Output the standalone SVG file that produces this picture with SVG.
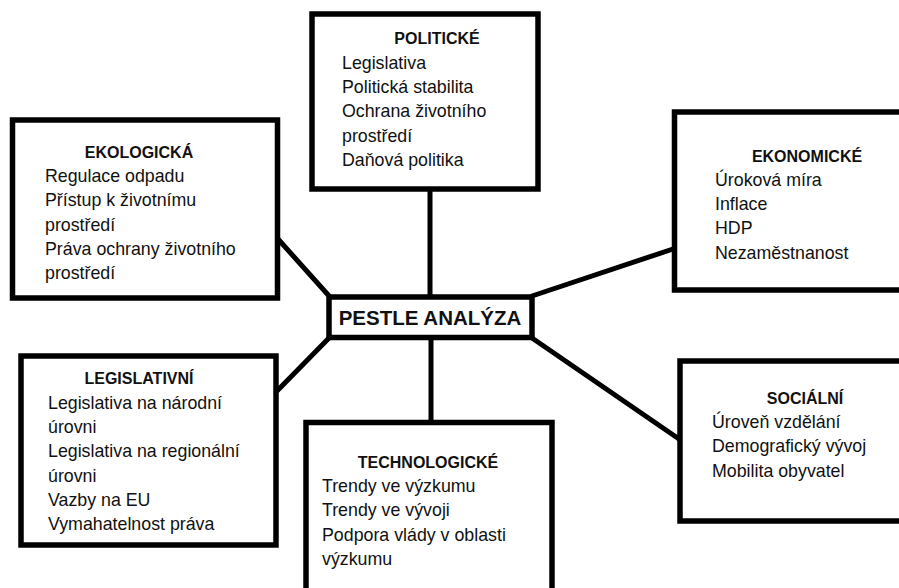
<svg xmlns="http://www.w3.org/2000/svg" width="899" height="588" viewBox="0 0 899 588">
<style>
.box{fill:#fff;stroke:#000;stroke-width:5.5}
.conn line{stroke:#000;stroke-width:5;stroke-linecap:round}
text{font-family:"Liberation Sans",Arial,sans-serif;fill:#111}
.t{font-size:16px;font-weight:bold;text-anchor:middle}
.b{font-size:17.8px}
.main{font-size:20.5px;font-weight:bold;text-anchor:middle}
</style>
<rect width="899" height="588" fill="#fff"/>
<g id="connectors" class="conn">
<line x1="430" y1="189" x2="430" y2="297"/>
<line x1="278" y1="239" x2="330" y2="297"/>
<line x1="532" y1="296" x2="676" y2="248"/>
<line x1="329" y1="338" x2="276" y2="392"/>
<line x1="431" y1="337" x2="431" y2="422"/>
<line x1="532" y1="338" x2="679" y2="439"/>
</g>
<g id="politicke">
<rect class="box" x="312" y="14" width="226" height="175"/>
<text class="t" x="437" y="44">POLITICKÉ</text>
<text class="b" x="342" y="69">Legislativa</text>
<text class="b" x="342" y="93">Politická stabilita</text>
<text class="b" x="342" y="117">Ochrana životního</text>
<text class="b" x="342" y="142">prostředí</text>
<text class="b" x="342" y="166">Daňová politika</text>
</g>
<g id="ekologicka">
<rect class="box" x="12.5" y="120" width="265" height="178"/>
<text class="t" x="139" y="158">EKOLOGICKÁ</text>
<text class="b" x="45" y="182">Regulace odpadu</text>
<text class="b" x="45" y="206">Přístup k životnímu</text>
<text class="b" x="45" y="231">prostředí</text>
<text class="b" x="45" y="255">Práva ochrany životního</text>
<text class="b" x="45" y="279">prostředí</text>
</g>
<g id="ekonomicke">
<rect class="box" x="674.5" y="112" width="230" height="178"/>
<text class="t" x="807" y="162">EKONOMICKÉ</text>
<text class="b" x="715" y="186">Úroková míra</text>
<text class="b" x="715" y="210">Inflace</text>
<text class="b" x="715" y="234">HDP</text>
<text class="b" x="715" y="259">Nezaměstnanost</text>
</g>
<g id="pestle">
<rect class="box" x="329" y="297" width="203" height="40.5"/>
<text class="main" x="430" y="325">PESTLE ANALÝZA</text>
</g>
<g id="legislativni">
<rect class="box" x="21" y="356" width="255" height="189"/>
<text class="t" x="139" y="384">LEGISLATIVNÍ</text>
<text class="b" x="48" y="409">Legislativa na národní</text>
<text class="b" x="48" y="433">úrovni</text>
<text class="b" x="48" y="457">Legislativa na regionální</text>
<text class="b" x="48" y="482">úrovni</text>
<text class="b" x="48" y="506">Vazby na EU</text>
<text class="b" x="48" y="530">Vymahatelnost práva</text>
</g>
<g id="technologicke">
<rect class="box" x="306" y="422.5" width="246" height="180"/>
<text class="t" x="428" y="468">TECHNOLOGICKÉ</text>
<text class="b" x="322" y="492">Trendy ve výzkumu</text>
<text class="b" x="322" y="516">Trendy ve vývoji</text>
<text class="b" x="322" y="541">Podpora vlády v oblasti</text>
<text class="b" x="322" y="565">výzkumu</text>
</g>
<g id="socialni">
<rect class="box" x="680" y="361" width="230" height="160"/>
<text class="t" x="805" y="404">SOCIÁLNÍ</text>
<text class="b" x="712" y="428">Úroveň vzdělání</text>
<text class="b" x="712" y="452">Demografický vývoj</text>
<text class="b" x="712" y="477">Mobilita obyvatel</text>
</g>
</svg>
